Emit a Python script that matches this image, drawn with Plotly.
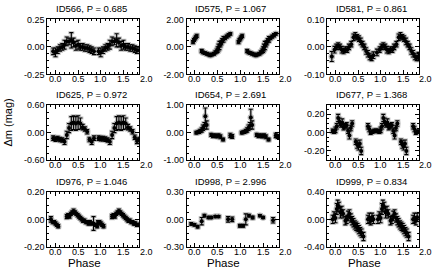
import plotly.graph_objects as go

# ---------------- data ----------------
titles = ["ID566, P = 0.685", "ID575, P = 1.067", "ID581, P = 0.861",
          "ID625, P = 0.972", "ID654, P = 2.691", "ID677, P = 1.368",
          "ID976, P = 1.046", "ID998, P = 2.996", "ID999, P = 0.834"]

ph_566 = [-0.05, 0.00, 0.05, 0.10, 0.15, 0.20, 0.25, 0.30, 0.35, 0.40, 0.45, 0.50, 0.55, 0.60, 0.65, 0.70, 0.75, 0.80, 0.85,
          0.95, 1.00, 1.05, 1.10, 1.15, 1.20, 1.25, 1.30, 1.35, 1.40, 1.45, 1.50, 1.55, 1.60, 1.65, 1.70, 1.75, 1.80, 1.85]
m_566 = [-0.04, -0.05, -0.03, -0.01, 0.00, 0.02, 0.05, 0.05, 0.06, 0.04, 0.01, 0.02, 0.00, 0.00, -0.01, -0.01, -0.02, -0.03, -0.04,
         -0.04, -0.05, -0.03, -0.01, 0.00, 0.02, 0.05, 0.05, 0.06, 0.04, 0.01, 0.02, 0.00, 0.00, -0.01, -0.01, -0.02, -0.03, -0.03]
e_566 = [0.03, 0.04, 0.03, 0.03, 0.03, 0.04, 0.04, 0.03, 0.07, 0.04, 0.04, 0.04, 0.03, 0.03, 0.03, 0.03, 0.03, 0.03, 0.03,
         0.03, 0.04, 0.03, 0.03, 0.03, 0.04, 0.04, 0.03, 0.06, 0.04, 0.04, 0.04, 0.03, 0.03, 0.03, 0.03, 0.03, 0.03, 0.03]

ph_575 = [-0.04, -0.02, 0.00, 0.02, 0.04, 0.15, 0.18, 0.22, 0.26, 0.30, 0.34, 0.38, 0.42, 0.45, 0.48, 0.50, 0.52, 0.54, 0.56,
          0.58, 0.60, 0.63, 0.66, 0.70, 0.74, 0.78,
          0.96, 0.98, 1.00, 1.02, 1.04, 1.15, 1.18, 1.22, 1.26, 1.30, 1.34, 1.38, 1.42, 1.45, 1.48, 1.50, 1.52, 1.54, 1.56,
          1.58, 1.60, 1.63, 1.66, 1.70, 1.74, 1.78]
m_575 = [0.35, 0.50, 0.60, 0.70, 0.80, -0.30, -0.40, -0.45, -0.50, -0.55, -0.60, -0.55, -0.50, -0.40, -0.30, -0.20, -0.05,
         0.10, 0.20, 0.30, 0.45, 0.55, 0.65, 0.75, 0.85, 0.95,
         0.35, 0.50, 0.60, 0.70, 0.80, -0.30, -0.40, -0.45, -0.50, -0.55, -0.60, -0.55, -0.50, -0.40, -0.30, -0.20, -0.05,
         0.10, 0.20, 0.30, 0.45, 0.55, 0.65, 0.75, 0.85, 0.95]
e_575 = [0.12, 0.10, 0.10, 0.10, 0.12, 0.12, 0.10, 0.10, 0.10, 0.10, 0.12, 0.10, 0.10, 0.12, 0.15, 0.20, 0.25, 0.30, 0.20,
         0.15, 0.15, 0.20, 0.12, 0.12, 0.12, 0.10,
         0.12, 0.10, 0.10, 0.10, 0.12, 0.12, 0.10, 0.10, 0.10, 0.10, 0.12, 0.10, 0.10, 0.12, 0.15, 0.20, 0.25, 0.30, 0.20,
         0.15, 0.15, 0.20, 0.12, 0.12, 0.12, 0.10]

ph_581 = [-0.08, -0.02, 0.02, 0.06, 0.10, 0.14, 0.18, 0.22, 0.26, 0.30, 0.35, 0.40, 0.44, 0.48, 0.52, 0.56, 0.60, 0.64, 0.68,
          0.72, 0.76, 0.80, 0.84,
          0.92, 0.98, 1.02, 1.06, 1.10, 1.14, 1.18, 1.22, 1.26, 1.30, 1.35, 1.40, 1.44, 1.48, 1.52, 1.56, 1.60, 1.64, 1.68,
          1.72, 1.76, 1.80, 1.84]
m_581 = [-0.035, -0.010, 0.000, 0.005, 0.000, -0.010, -0.015, -0.010, -0.010, 0.000, 0.010, 0.035, 0.040, 0.035, 0.030,
         0.020, 0.010, 0.000, -0.015, -0.025, -0.035, -0.040, -0.030,
         -0.020, -0.010, 0.000, 0.005, 0.000, -0.010, -0.015, -0.010, -0.010, 0.000, 0.010, 0.035, 0.040, 0.035, 0.030,
         0.020, 0.010, 0.000, -0.015, -0.025, -0.035, -0.040, -0.035]
e_581 = [0.018, 0.012, 0.010, 0.010, 0.010, 0.012, 0.010, 0.010, 0.010, 0.010, 0.010, 0.012, 0.012, 0.010, 0.010,
         0.012, 0.010, 0.010, 0.012, 0.012, 0.012, 0.010, 0.012,
         0.012, 0.010, 0.010, 0.010, 0.010, 0.012, 0.010, 0.010, 0.010, 0.010, 0.010, 0.012, 0.012, 0.010, 0.010,
         0.012, 0.010, 0.010, 0.012, 0.012, 0.012, 0.010, 0.015]

ph_625 = [-0.05, 0.00, 0.05, 0.10, 0.15, 0.20, 0.25, 0.30, 0.35, 0.40, 0.45, 0.50, 0.55, 0.60, 0.65, 0.70, 0.75, 0.80, 0.85,
          0.95, 1.00, 1.05, 1.10, 1.15, 1.20, 1.25, 1.30, 1.35, 1.40, 1.45, 1.50, 1.55, 1.60, 1.65, 1.70, 1.75, 1.80, 1.85]
m_625 = [-0.12, -0.14, -0.13, -0.15, -0.16, -0.20, -0.05, 0.10, 0.20, 0.22, 0.20, 0.22, 0.20, 0.12, 0.08, 0.02, -0.15,
         -0.20, -0.12,
         -0.12, -0.13, -0.13, -0.14, -0.16, -0.20, -0.05, 0.10, 0.20, 0.22, 0.20, 0.22, 0.20, 0.12, 0.08, 0.02, -0.10,
         -0.18, -0.15]
e_625 = [0.05, 0.05, 0.05, 0.05, 0.05, 0.06, 0.08, 0.10, 0.15, 0.15, 0.15, 0.15, 0.12, 0.06, 0.05, 0.05, 0.05, 0.06, 0.05,
         0.05, 0.05, 0.05, 0.05, 0.05, 0.06, 0.08, 0.10, 0.15, 0.15, 0.15, 0.15, 0.12, 0.06, 0.05, 0.05, 0.05, 0.06, 0.05]

ph_654 = [0.03, 0.06, 0.09, 0.12, 0.15, 0.18, 0.21, 0.23, 0.26, 0.36, 0.40, 0.44, 0.48, 0.52, 0.56, 0.62, 0.78, 0.82,
          1.03, 1.06, 1.09, 1.12, 1.15, 1.18, 1.21, 1.23, 1.26, 1.36, 1.40, 1.44, 1.48, 1.52, 1.56, 1.62, 1.78, 1.82]
m_654 = [0.00, 0.01, 0.03, 0.06, 0.10, 0.18, 0.25, 0.60, 0.28, -0.08, -0.12, -0.10, -0.13, -0.10, -0.15, -0.25, -0.10,
         -0.14,
         0.00, 0.01, 0.03, 0.06, 0.10, 0.18, 0.25, 0.55, 0.28, -0.08, -0.12, -0.10, -0.13, -0.10, -0.15, -0.25, -0.10,
         -0.14]
e_654 = [0.05, 0.05, 0.06, 0.06, 0.08, 0.10, 0.12, 0.30, 0.15, 0.06, 0.06, 0.06, 0.06, 0.06, 0.07, 0.05, 0.08, 0.07,
         0.05, 0.05, 0.06, 0.06, 0.08, 0.10, 0.12, 0.30, 0.15, 0.06, 0.06, 0.06, 0.06, 0.06, 0.07, 0.05, 0.08, 0.07]

ph_677 = [-0.06, -0.03, 0.00, 0.03, 0.06, 0.09, 0.12, 0.15, 0.18, 0.21, 0.25, 0.28, 0.31, 0.34, 0.37, 0.45, 0.48, 0.51,
          0.54, 0.57, 0.72, 0.75, 0.78, 0.82, 0.86, 0.90,
          0.94, 0.97, 1.00, 1.03, 1.06, 1.09, 1.12, 1.15, 1.18, 1.21, 1.25, 1.28, 1.31, 1.34, 1.37, 1.45, 1.48, 1.51,
          1.54, 1.57, 1.72, 1.75, 1.78, 1.82]
m_677 = [0.02, 0.01, 0.03, 0.07, 0.16, 0.12, 0.09, 0.11, 0.06, 0.07, 0.08, 0.02, -0.03, 0.05, 0.10, -0.10, -0.13, -0.15,
         -0.12, -0.20, 0.07, 0.04, 0.00, 0.01, 0.02, 0.02,
         0.02, 0.01, 0.03, 0.07, 0.16, 0.12, 0.09, 0.11, 0.06, 0.07, 0.08, 0.02, -0.03, 0.05, 0.10, -0.10, -0.13, -0.15,
         -0.12, -0.20, 0.07, 0.04, 0.00, 0.01]
e_677 = [0.02, 0.02, 0.03, 0.03, 0.04, 0.04, 0.03, 0.04, 0.03, 0.03, 0.03, 0.03, 0.04, 0.03, 0.03, 0.03, 0.04, 0.04,
         0.04, 0.04, 0.03, 0.03, 0.02, 0.02, 0.02, 0.02,
         0.02, 0.02, 0.03, 0.03, 0.04, 0.04, 0.03, 0.04, 0.03, 0.03, 0.03, 0.03, 0.04, 0.03, 0.03, 0.03, 0.04, 0.04,
         0.04, 0.04, 0.03, 0.03, 0.02, 0.02]

ph_976 = [-0.10, -0.06, -0.03, 0.00, 0.03, 0.06, 0.25, 0.28, 0.31, 0.34, 0.37, 0.40, 0.43, 0.46, 0.49, 0.52, 0.55, 0.58,
          0.61, 0.64, 0.67, 0.70, 0.73, 0.76, 0.80, 0.84, 0.88, 0.92,
          0.94, 0.97, 1.00, 1.03, 1.06, 1.25, 1.28, 1.31, 1.34, 1.37, 1.40, 1.43, 1.46, 1.49, 1.52, 1.55, 1.58,
          1.61, 1.64, 1.67, 1.70, 1.73, 1.76, 1.80, 1.84]
m_976 = [0.00, -0.02, -0.02, -0.03, -0.04, -0.05, 0.02, 0.03, 0.02, 0.04, 0.05, 0.06, 0.05, 0.04, 0.03, 0.02, 0.01, 0.00,
         -0.01, -0.01, -0.02, -0.02, -0.03, -0.02, -0.03, -0.03, -0.04, -0.05,
         -0.02, -0.02, -0.03, -0.04, -0.05, 0.02, 0.03, 0.02, 0.04, 0.05, 0.06, 0.05, 0.04, 0.03, 0.02, 0.01, 0.00,
         -0.01, -0.01, -0.02, -0.02, -0.03, -0.03, -0.04, -0.04]
e_976 = [0.02, 0.012, 0.012, 0.012, 0.012, 0.012, 0.015, 0.012, 0.012, 0.012, 0.012, 0.015, 0.012, 0.012, 0.012, 0.012,
         0.012, 0.012, 0.012, 0.012, 0.012, 0.012, 0.012, 0.012, 0.012, 0.05, 0.012, 0.012,
         0.012, 0.012, 0.012, 0.012, 0.012, 0.015, 0.012, 0.012, 0.012, 0.012, 0.015, 0.012, 0.012, 0.012, 0.012,
         0.012, 0.012, 0.012, 0.012, 0.012, 0.012, 0.012, 0.012, 0.012, 0.012]

ph_998 = [-0.08, -0.01, 0.06, 0.15, 0.21, 0.30, 0.36, 0.45, 0.52, 0.73, 0.82, 0.99, 1.06, 1.12, 1.19, 1.27, 1.43, 1.50, 1.72]
m_998 = [-0.05, -0.06, -0.08, -0.02, 0.04, 0.02, 0.02, 0.03, 0.03, 0.00, 0.00, -0.07, -0.07, 0.00, 0.04, 0.02, 0.04, 0.02, -0.01]
e_998 = [0.015, 0.015, 0.015, 0.04, 0.015, 0.012, 0.012, 0.012, 0.012, 0.03, 0.025, 0.015, 0.015, 0.06, 0.015, 0.015,
         0.012, 0.012, 0.03]

ph_999 = [-0.06, -0.03, 0.00, 0.03, 0.05, 0.08, 0.11, 0.14, 0.17, 0.22, 0.25, 0.28, 0.31, 0.34, 0.37, 0.40, 0.43, 0.46,
          0.49, 0.52, 0.55, 0.58, 0.62, 0.72, 0.75, 0.78, 0.81, 0.84,
          0.94, 0.97, 1.00, 1.03, 1.05, 1.08, 1.11, 1.14, 1.17, 1.22, 1.25, 1.28, 1.31, 1.34, 1.37, 1.40, 1.43, 1.46,
          1.49, 1.52, 1.55, 1.58, 1.62, 1.72, 1.75, 1.78, 1.81]
m_999 = [0.00, 0.05, 0.02, 0.15, 0.20, 0.18, 0.10, 0.12, 0.08, -0.02, 0.00, 0.05, 0.08, 0.02, -0.02, -0.05, -0.08, -0.10,
         -0.12, -0.15, -0.18, -0.20, -0.25, 0.00, 0.02, -0.02, 0.03, 0.00,
         0.00, 0.05, 0.02, 0.15, 0.20, 0.18, 0.10, 0.12, 0.08, -0.02, 0.00, 0.05, 0.08, 0.02, -0.02, -0.05, -0.08, -0.10,
         -0.12, -0.15, -0.18, -0.20, -0.25, 0.00, 0.02, -0.02, 0.03]
e_999 = [0.06, 0.06, 0.07, 0.08, 0.08, 0.07, 0.08, 0.07, 0.06, 0.06, 0.06, 0.07, 0.06, 0.06, 0.06, 0.06, 0.06, 0.06,
         0.06, 0.06, 0.06, 0.06, 0.06, 0.06, 0.07, 0.06, 0.06, 0.06,
         0.06, 0.06, 0.07, 0.08, 0.08, 0.07, 0.08, 0.07, 0.06, 0.06, 0.06, 0.07, 0.06, 0.06, 0.06, 0.06, 0.06, 0.06,
         0.06, 0.06, 0.06, 0.06, 0.06, 0.06, 0.07, 0.06, 0.06]

phases = [ph_566, ph_575, ph_581, ph_625, ph_654, ph_677, ph_976, ph_998, ph_999]
mags = [m_566, m_575, m_581, m_625, m_654, m_677, m_976, m_998, m_999]
errs = [e_566, e_575, e_581, e_625, e_654, e_677, e_976, e_998, e_999]

y_lim = [0.25, 2.00, 0.10, 0.60, 1.00, 0.30, 0.20, 0.30, 0.40]
y_tick_vals = [[-0.25, 0, 0.25], [-2, 0, 2], [-0.1, 0, 0.1], [-0.6, 0, 0.6], [-1, 0, 1],
               [-0.2, 0, 0.2], [-0.2, 0, 0.2], [-0.3, 0, 0.3], [-0.4, 0, 0.4]]
y_tick_text = [["-0.25", "0.00", "0.25"], ["-2.00", "0.00", "2.00"], ["-0.10", "0.00", "0.10"],
               ["-0.60", "0.00", "0.60"], ["-1.00", "0.00", "1.00"], ["-0.20", "0.00", "0.20"],
               ["-0.20", "0.00", "0.20"], ["-0.30", "0.00", "0.30"], ["-0.40", "0.00", "0.40"]]
x_tick_vals = [0.0, 0.5, 1.0, 1.5, 2.0]
x_tick_text = ["0.0", "0.5", "1.0", "1.5", "2.0"]
x_lim = [-0.18, 1.85]

# ---------------- layout ----------------
W, H = 436, 273
col_px = [(47.3, 139.3), (186.7, 279.0), (327.3, 419.0)]
row_px = [(15, 72), (104, 161), (194, 251)]
FONT = "Liberation Sans, Arial, Helvetica, sans-serif"

fig = go.Figure()
annotations = []
layout = dict(width=W, height=H, margin=dict(l=0, r=0, t=0, b=0),
              paper_bgcolor="white", plot_bgcolor="white", showlegend=False,
              font=dict(family=FONT, size=9, color="black"))

for i in range(9):
    r, c = divmod(i, 3)
    k = i + 1
    xs = "" if k == 1 else str(k)
    xa, ya = "x" + xs, "y" + xs
    x0, x1 = col_px[c]
    y0, y1 = row_px[r]
    R = y_lim[i]
    # halo (grey) then black marks
    fig.add_trace(go.Scatter(x=phases[i], y=mags[i], mode="markers", xaxis=xa, yaxis=ya,
                             marker=dict(size=6.5, color="#b8b8b8"),
                             error_y=dict(type="data", array=errs[i], color="#c0c0c0", thickness=3, width=3),
                             cliponaxis=True, hoverinfo="skip"))
    fig.add_trace(go.Scatter(x=phases[i], y=mags[i], mode="markers", xaxis=xa, yaxis=ya,
                             marker=dict(size=4, color="black"),
                             error_y=dict(type="data", array=errs[i], color="black", thickness=1.1, width=2),
                             cliponaxis=True))
    layout["xaxis" + xs] = dict(domain=[x0 / W, x1 / W], anchor=ya, range=x_lim,
                                tickvals=x_tick_vals[:4], showticklabels=False,
                                ticks="inside", ticklen=4, tickcolor="black", tickwidth=1,
                                minor=dict(dtick=0.1, ticks="inside", ticklen=2, tickcolor="black", tickwidth=1),
                                showline=True, linecolor="black", linewidth=1, mirror="ticks",
                                showgrid=False, zeroline=False)
    layout["yaxis" + xs] = dict(domain=[1 - y1 / H, 1 - y0 / H], anchor=xa, range=[-R, R],
                                tickvals=y_tick_vals[i], ticktext=y_tick_text[i],
                                ticks="inside", ticklen=4, tickcolor="black", tickwidth=1,
                                minor=dict(dtick=(y_tick_vals[i][2] / 4), ticks="inside", ticklen=2,
                                           tickcolor="black", tickwidth=1),
                                showline=True, linecolor="black", linewidth=1, mirror="ticks",
                                showgrid=False, zeroline=False,
                                tickfont=dict(size=9, family=FONT))
    # x tick labels (last one lies beyond the frame, as in the original)
    for v, t in zip(x_tick_vals, x_tick_text):
        annotations.append(dict(xref=xa + " domain", yref=ya + " domain",
                                x=(v - x_lim[0]) / (x_lim[1] - x_lim[0]), y=0, yanchor="top",
                                xanchor="center", yshift=1, borderpad=0, text=t, showarrow=False,
                                font=dict(size=9, family=FONT)))
    # panel title
    annotations.append(dict(xref=xa + " domain", yref=ya + " domain", x=0.5, y=1,
                            xanchor="center", yanchor="bottom", yshift=4, xshift=-2, borderpad=0,
                            text=titles[i], showarrow=False, font=dict(size=9.5, family=FONT)))

for c in range(3):
    x0, x1 = col_px[c]
    annotations.append(dict(xref="paper", yref="paper", x=((x0 + x1) / 2 - 9) / W, y=1 - 268 / H,
                            xanchor="center", yanchor="middle", text="Phase", showarrow=False,
                            borderpad=0, font=dict(size=11.5, family=FONT)))
annotations.append(dict(xref="paper", yref="paper", x=8 / W, y=1 - 122 / H, textangle=-90,
                        xanchor="center", yanchor="middle", text="Δm (mag)", showarrow=False,
                        font=dict(size=11, family=FONT)))

layout["annotations"] = annotations
fig.update_layout(**layout)
fig.write_html("out.html", config={"staticPlot": True, "displayModeBar": False},
               post_script="document.body.style.margin='0px';document.body.style.overflow='hidden';")
